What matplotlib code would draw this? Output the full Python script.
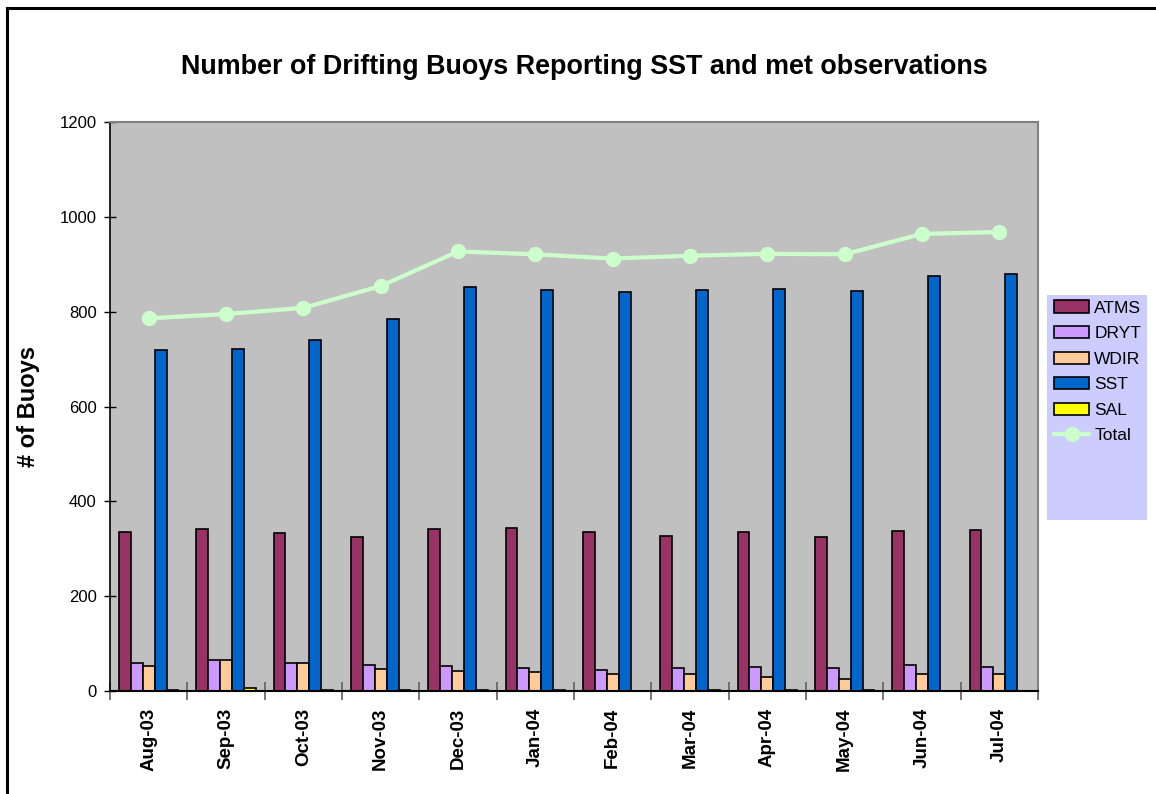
import matplotlib
matplotlib.use("Agg")
import matplotlib.pyplot as plt
import numpy as np
from matplotlib.patches import Rectangle
from matplotlib.lines import Line2D

plt.rcParams['font.family'] = ['Liberation Sans', 'DejaVu Sans']

months = ["Aug-03", "Sep-03", "Oct-03", "Nov-03", "Dec-03", "Jan-04",
          "Feb-04", "Mar-04", "Apr-04", "May-04", "Jun-04", "Jul-04"]
atms = [335, 341, 333, 325, 341, 344, 335, 327, 335, 324, 338, 340]
dryt = [59, 65, 59, 55, 53, 49, 45, 49, 50, 49, 54, 51]
wdir = [52, 65, 59, 46, 42, 40, 35, 35, 29, 25, 36, 36]
sst = [720, 722, 740, 784, 852, 846, 842, 845, 848, 843, 875, 879]
sal = [3, 7, 3, 3, 3, 2, 1, 2, 2, 2, 1, 1]
total = [786, 795, 808, 854, 927, 921, 912, 918, 922, 921, 964, 968]

series = [("ATMS", atms, "#993366"), ("DRYT", dryt, "#CC99FF"),
          ("WDIR", wdir, "#FFCC99"), ("SST", sst, "#0066CC"),
          ("SAL", sal, "#FFFF00")]

W, H = 1156, 794
fig = plt.figure(figsize=(W / 100, H / 100), dpi=100)
ax = fig.add_axes([110 / W, 1 - 691 / H, (1038 - 110) / W, (691 - 122) / H])
ax.set_facecolor("#C0C0C0")

x = np.arange(len(months))
bw = 1 / 6.5
handles = []
for i, (name, vals, col) in enumerate(series):
    b = ax.bar(x + (i - 2) * bw, vals, width=bw, color=col, edgecolor="black",
               linewidth=1.2, label=name, zorder=2)
    handles.append(b)
ln, = ax.plot(x, total, color="#CCFFCC", linewidth=3, marker="o", markersize=10,
              label="Total", zorder=3)
handles.append(ln)

ax.set_xlim(-0.5, len(months) - 0.5)
ax.set_ylim(0, 1200)
ax.set_yticks(range(0, 1201, 200))
ax.tick_params(axis="y", direction="inout", length=9, width=1, labelsize=12, pad=5)
ax.set_xticks(np.arange(-0.5, len(months), 1))
ax.set_xticklabels([])
ax.set_xticks(x, minor=True)
ax.set_xticklabels(months, minor=True, rotation=90, fontsize=13.5, fontweight="bold")
ax.tick_params(axis="x", which="major", direction="inout", length=13, width=1.2,
               color="#606060")
ax.tick_params(axis="x", which="minor", length=0, pad=12)

for s in ("top", "right"):
    ax.spines[s].set_color("#808080")
    ax.spines[s].set_linewidth(1.5)
ax.spines["left"].set_color("black")
ax.spines["bottom"].set_color("black")
ax.spines["left"].set_linewidth(1.2)
ax.spines["bottom"].set_linewidth(1.5)

ax.set_ylabel("# of Buoys", fontsize=17, fontweight="bold")
ax.yaxis.set_label_coords((40 - 110) / 928, 0.5)

fig.text(584 / W, 1 - 67 / H, "Number of Drifting Buoys Reporting SST and met observations",
         ha="center", va="center", fontsize=19.4, fontweight="bold")

# legend background
fig.patches.append(Rectangle((1047 / W, 1 - 520 / H), (1147 - 1047) / W, (520 - 295) / H,
                             transform=fig.transFigure, facecolor="#CCCCFF",
                             edgecolor="none", zorder=0))
labels = [h.get_label() for h in handles]
leg = fig.legend(handles, labels, loc="upper left",
                 bbox_to_anchor=(1051 / W, 1 - 297 / H), frameon=False,
                 fontsize=12.5, handlelength=2.0, handleheight=0.7,
                 handletextpad=0.3, labelspacing=0.6, borderpad=0.2,
                 borderaxespad=0)

# outer chart border (top and left)
fig.add_artist(Line2D([7 / W, 1], [1 - 8 / H, 1 - 8 / H], transform=fig.transFigure,
                      color="black", linewidth=2.2))
fig.add_artist(Line2D([7 / W, 7 / W], [0, 1 - 8 / H], transform=fig.transFigure,
                      color="black", linewidth=2.2))

fig.savefig("out.png", dpi=100)
